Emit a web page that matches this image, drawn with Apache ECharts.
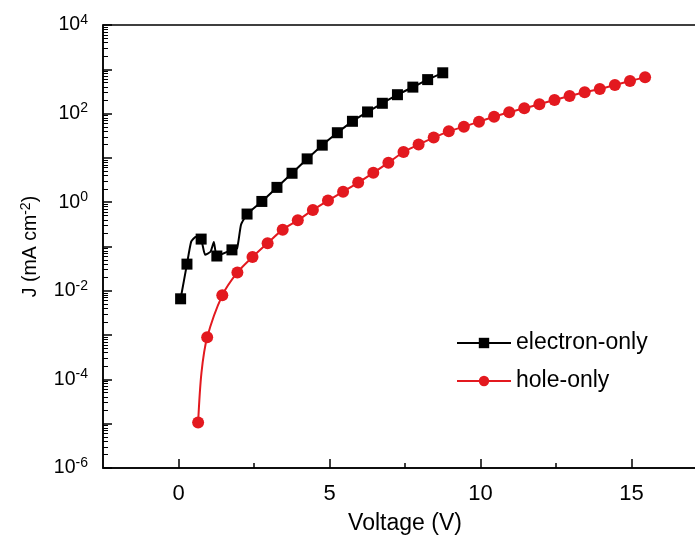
<!DOCTYPE html>
<html>
<head>
<meta charset="utf-8">
<script src="https://cdn.jsdelivr.net/npm/echarts@6/dist/echarts.min.js"></script>
<style>
html, body { margin: 0; padding: 0; background: #fff; }
#chart { width: 695px; height: 541px; }
</style>
</head>
<body>
<div id="chart"></div>
<script>
// electron-only device, marked points (V, mA cm-2)
var electronV = [0.07, 0.28, 0.75, 1.27, 1.77, 2.27, 2.76, 3.26, 3.76, 4.26, 4.76, 5.26, 5.76, 6.26, 6.75, 7.25, 7.76, 8.25, 8.75];
var electronJ = [0.0066, 0.040, 0.147, 0.061, 0.084, 0.54, 1.04, 2.16, 4.5, 9.5, 19.4, 37, 67, 109, 171, 267, 396, 585, 834];
// unmarked points of the electron trace (the wiggles between markers)
var electronTraceV = [0.42, 0.58, 0.88, 1.06, 1.17, 1.94, 2.07];
var electronTraceJ = [0.129, 0.166, 0.065, 0.076, 0.126, 0.091, 0.31];

// hole-only device
var holeV = [0.65, 0.95, 1.45, 1.95, 2.45, 2.95, 3.45, 3.95, 4.45, 4.95, 5.45, 5.95, 6.45, 6.95, 7.45, 7.95,
             8.45, 8.95, 9.45, 9.95, 10.45, 10.95, 11.45, 11.95, 12.45, 12.95, 13.45, 13.95, 14.45, 14.95, 15.45];
var holeJ = [1.07e-5, 8.9e-4, 7.9e-3, 0.026, 0.058, 0.119, 0.24, 0.39, 0.67, 1.09, 1.73, 2.77, 4.6, 7.8, 13.6, 20,
             28.7, 39.8, 50.7, 65.8, 85, 107, 132, 162, 203, 250, 303, 360, 443, 545, 661];
var holeTraceV = [0.76];
var holeTraceJ = [1.4e-4];

var voltageTicks = [0, 5, 10, 15];
var voltageMinorTicks = [2.5, 7.5, 12.5];
var decadeMin = -6, decadeMax = 4;

var fontName = 'Liberation Sans';

// build series points in log10 space, trace points carry no symbol
function buildLine(v, j, tv, tj) {
    var pts = [];
    for (var i = 0; i < v.length; i++) {
        pts.push({ value: [v[i], Math.log10(j[i])] });
    }
    for (var k = 0; k < tv.length; k++) {
        pts.push({ value: [tv[k], Math.log10(tj[k])], symbol: 'none' });
    }
    pts.sort(function (a, b) { return a.value[0] - b.value[0]; });
    return pts;
}

// minor ticks 2..9 inside each decade
var minorDecades = [];
for (var n = decadeMin; n < decadeMax; n++) {
    for (var m = 2; m <= 9; m++) {
        minorDecades.push(n + Math.log10(m));
    }
}

var supStyle = { fontSize: 14, fontFamily: fontName, color: '#000', verticalAlign: 'top', lineHeight: 14 };

var myChart = echarts.init(document.getElementById('chart'));
var option = {
    animation: false,
    grid: {
        left: 103, top: 25, width: 604, bottom: 73,
        outerBoundsMode: 'none',
        show: true, borderColor: '#000', borderWidth: 1.5, backgroundColor: 'transparent'
    },
    legend: {
        orient: 'vertical',
        left: 451, top: 325,
        itemWidth: 54, itemHeight: 13, itemGap: 12,
        textStyle: { fontSize: 23, fontFamily: fontName, color: '#000', lineHeight: 26 },
        data: ['electron-only', 'hole-only']
    },
    xAxis: [
        {
            type: 'value', min: -2.5, max: 17.5, interval: 2.5,
            name: 'Voltage (V)', nameLocation: 'middle', nameGap: 44,
            nameTextStyle: { fontSize: 23, fontFamily: fontName, color: '#000' },
            axisLine: { onZero: false, lineStyle: { color: '#000', width: 1.5 } },
            axisTick: { inside: true, length: 9, customValues: voltageTicks, lineStyle: { color: '#000', width: 1.5 } },
            axisLabel: { margin: 15, fontSize: 22, fontFamily: fontName, color: '#000', customValues: voltageTicks },
            splitLine: { show: false }
        },
        {
            type: 'value', min: -2.5, max: 17.5, interval: 2.5, position: 'bottom',
            axisLine: { show: false, onZero: false },
            axisTick: { inside: true, length: 5, customValues: voltageMinorTicks, lineStyle: { color: '#000', width: 1.5 } },
            axisLabel: { show: false },
            splitLine: { show: false }
        }
    ],
    yAxis: [
        {
            type: 'value', min: decadeMin, max: decadeMax, interval: 1,
            name: 'J (mA cm{sup|-2})', nameLocation: 'middle', nameGap: 58, nameRotate: 90,
            nameTextStyle: { fontSize: 19.5, fontFamily: fontName, color: '#000', lineHeight: 24, rich: { sup: supStyle } },
            axisLine: { onZero: false, lineStyle: { color: '#000', width: 1.5 } },
            axisTick: { inside: true, length: 9, lineStyle: { color: '#000', width: 1.5 } },
            axisLabel: {
                margin: 15, fontSize: 19.5, fontFamily: fontName, color: '#000', lineHeight: 24,
                rich: { sup: supStyle },
                formatter: function (val) {
                    var e = Math.round(val);
                    return e % 2 === 0 ? '10{sup|' + e + '}' : '';
                }
            },
            splitLine: { show: false }
        },
        {
            type: 'value', min: decadeMin, max: decadeMax, position: 'left',
            axisLine: { show: false, onZero: false },
            axisTick: { inside: true, length: 5, customValues: minorDecades, lineStyle: { color: '#000', width: 1 } },
            axisLabel: { show: false },
            splitLine: { show: false }
        }
    ],
    series: [
        {
            name: 'electron-only',
            type: 'line',
            smooth: 0.15,
            symbol: 'rect',
            symbolSize: 11,
            itemStyle: { color: '#000' },
            lineStyle: { color: '#000', width: 2 },
            data: buildLine(electronV, electronJ, electronTraceV, electronTraceJ)
        },
        {
            name: 'hole-only',
            type: 'line',
            smooth: 0.3,
            symbol: 'circle',
            symbolSize: 12,
            itemStyle: { color: '#e3191f' },
            lineStyle: { color: '#e3191f', width: 2 },
            data: buildLine(holeV, holeJ, holeTraceV, holeTraceJ)
        }
    ]
};
myChart.setOption(option);
</script>
</body>
</html>
